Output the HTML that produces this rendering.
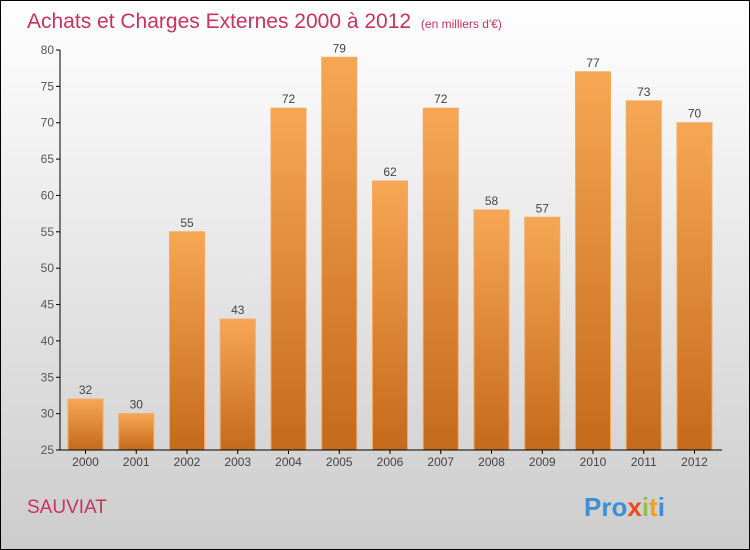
<!DOCTYPE html>
<html><head><meta charset="utf-8"><style>
body{margin:0}
svg{display:block;font-family:"Liberation Sans",sans-serif}
</style></head><body>
<svg width="750" height="550" viewBox="0 0 750 550">
<defs>
<linearGradient id="bg" x1="0" y1="0" x2="0" y2="1"><stop offset="0" stop-color="#ffffff"/><stop offset="1" stop-color="#cccccc"/></linearGradient>
<linearGradient id="bar" x1="0" y1="0" x2="0" y2="1"><stop offset="0" stop-color="#f7a753"/><stop offset="1" stop-color="#c46a1b"/></linearGradient>
</defs>
<rect x="0.5" y="0.5" width="749" height="549" fill="url(#bg)" stroke="#000"/>
<text x="27" y="28" font-size="21" fill="#c8325f">Achats et Charges Externes 2000 à 2012 <tspan font-size="12" dx="4">(en milliers d'€)</tspan></text>
<g id="plot"></g>
<text x="27" y="513" font-size="19" fill="#c8325f">SAUVIAT</text>
<g font-size="26" font-weight="bold">
<text x="584" y="516" fill="#3a8fd6">Pro<tspan fill="#e84b1c">x</tspan><tspan fill="#8bc34a">i</tspan><tspan fill="#f0a020">t</tspan><tspan fill="#3a8fd6">i</tspan></text>
</g>
</svg>
<script>
const years=["2000","2001","2002","2003","2004","2005","2006","2007","2008","2009","2010","2011","2012"];
const values=[32,30,55,43,72,79,62,72,58,57,77,73,70];
const yTicks=[25,30,35,40,45,50,55,60,65,70,75,80];
const NS="http://www.w3.org/2000/svg";
const g=document.getElementById('plot');
const y=v=>450-(v-25)*400/55;
const x=i=>85.5+i*50.75;
function mk(t,a){const e=document.createElementNS(NS,t);for(const k in a)e.setAttribute(k,a[k]);g.appendChild(e);return e;}
yTicks.forEach(t=>{
 const l=mk('line',{x1:56,x2:60,y1:y(t),y2:y(t),stroke:'#000'});
 
 
 const tx=mk('text',{x:54,y:y(t)+4,'text-anchor':'end','font-size':12,fill:'#555'});
 tx.textContent=t;
 
 
});
values.forEach((v,i)=>{
 const r=mk('rect',{x:x(i)-17.5,y:y(v),width:35,height:450-y(v),fill:'url(#bar)',stroke:'#f2a960','stroke-width':1});
 
 
 const vl=mk('text',{x:x(i),y:y(v)-5,'text-anchor':'middle','font-size':12,fill:'#444'});
 vl.textContent=v;
 
 
 const tk=mk('line',{x1:x(i),x2:x(i),y1:450,y2:454,stroke:'#000'});
 
 
 const xl=mk('text',{x:x(i),y:466,'text-anchor':'middle','font-size':12,fill:'#444'});
 xl.textContent=years[i];
 
 
});
const ya=mk('line',{x1:60,x2:60,y1:50,y2:450,stroke:'#000'});


const xa=mk('line',{x1:60,x2:722,y1:450,y2:450,stroke:'#000'});


</script>
</body></html>
